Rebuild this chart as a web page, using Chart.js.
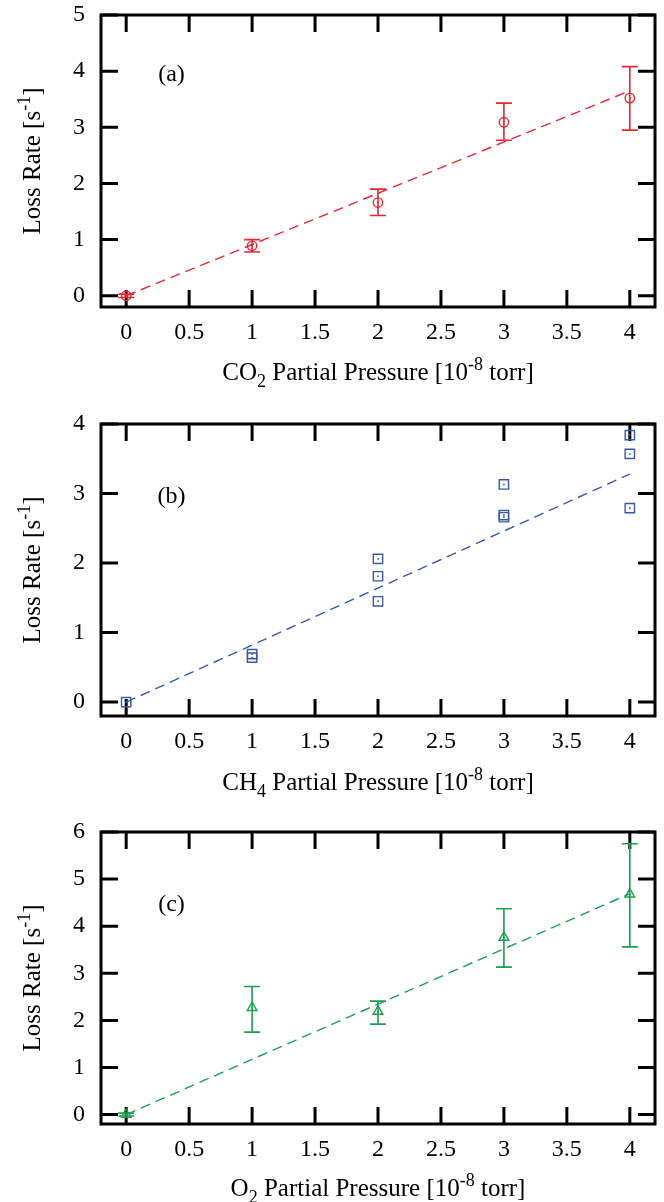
<!DOCTYPE html>
<html><head><meta charset="utf-8">
<script src="https://cdn.jsdelivr.net/npm/chart.js@4.4.1/dist/chart.umd.min.js"></script>
<style>
html,body{margin:0;padding:0;background:#fff;}
#wrap{position:relative;width:664px;height:1202px;overflow:hidden;}
canvas{position:absolute;left:0;}
</style></head><body>
<div id="wrap">
<canvas id="ca" width="664" height="420" style="top:-20px"></canvas>
<canvas id="cb" width="664" height="410" style="top:390px"></canvas>
<canvas id="cc" width="664" height="407" style="top:795px"></canvas>
</div>
<script>
// ---------- data ----------
const xTicks = [0, 0.5, 1, 1.5, 2, 2.5, 3, 3.5, 4];
const fitX = [0, 4];

// (a) CO2
const co2X  = [0, 1, 2, 3, 4];
const co2Y  = [0.00, 0.89, 1.66, 3.09, 3.52];
const co2Lo = [-0.03, 0.78, 1.43, 2.77, 2.95];
const co2Hi = [0.03, 1.00, 1.90, 3.43, 4.08];
const co2Fit = [0, 3.65];
const co2YTicks = [0, 1, 2, 3, 4, 5];

// (b) CH4
const ch4X = [0, 1, 1, 2, 2, 2, 3, 3, 3, 4, 4, 4];
const ch4Y = [0.00, 0.69, 0.64, 2.06, 1.81, 1.45, 3.13, 2.69, 2.66, 3.84, 3.57, 2.79];
const ch4Fit = [0, 3.28];
const ch4YTicks = [0, 1, 2, 3, 4];

// (c) O2
const o2X  = [0, 1, 2, 3, 4];
const o2Y  = [0.00, 2.27, 2.19, 3.76, 4.68];
const o2Lo = [-0.03, 1.75, 1.92, 3.13, 3.56];
const o2Hi = [0.03, 2.72, 2.41, 4.37, 5.75];
const o2Fit = [0, 4.69];
const o2YTicks = [0, 1, 2, 3, 4, 5, 6];

// ---------- helpers ----------
const SERIF = "'Liberation Serif','Times New Roman',serif";
const pts = (xs, ys) => xs.map((x, i) => ({x: x, y: ys[i]}));

function drawRich(ctx, segs, cx, cy, size) {
  let w = 0;
  segs.forEach(s => {
    const fs = s.sub || s.sup ? size * 0.72 : size;
    ctx.font = fs + 'px ' + SERIF;
    s._w = ctx.measureText(s.t).width; s._fs = fs; w += s._w;
  });
  let x = cx - w / 2;
  ctx.textAlign = 'left'; ctx.textBaseline = 'alphabetic';
  segs.forEach(s => {
    ctx.font = s._fs + 'px ' + SERIF;
    let dy = 0;
    if (s.sub) dy = size * 0.28;
    if (s.sup) dy = -size * 0.42;
    ctx.fillText(s.t, x, cy + dy);
    x += s._w;
  });
}

const framePlugin = {
  id: 'frame',
  beforeDatasetsDraw(chart) {
    const {ctx, chartArea: a, scales: {x, y}} = chart;
    const L = 17;
    ctx.save();
    ctx.strokeStyle = '#000'; ctx.lineWidth = 3; ctx.lineCap = 'butt';
    ctx.beginPath();
    x.ticks.forEach(t => {
      const px = x.getPixelForValue(t.value);
      ctx.moveTo(px, a.bottom); ctx.lineTo(px, a.bottom - L);
      ctx.moveTo(px, a.top); ctx.lineTo(px, a.top + L);
    });
    y.ticks.forEach(t => {
      const py = y.getPixelForValue(t.value);
      ctx.moveTo(a.left, py); ctx.lineTo(a.left + L, py);
      ctx.moveTo(a.right, py); ctx.lineTo(a.right - L, py);
    });
    ctx.stroke();
    ctx.strokeRect(a.left, a.top, a.right - a.left, a.bottom - a.top);
    ctx.restore();
  }
};

const errPlugin = {
  id: 'errbars',
  afterDatasetsDraw(chart) {
    const {ctx, scales: {x, y}} = chart;
    chart.data.datasets.forEach((ds, di) => {
      if (ds.type === 'line') return;
      const meta = chart.getDatasetMeta(di);
      ctx.save();
      ctx.strokeStyle = ds.borderColor; ctx.fillStyle = ds.borderColor;
      ctx.lineWidth = 1.6;
      ds.data.forEach((p, i) => {
        const px = x.getPixelForValue(p.x);
        if (ds.errLo) {
          const y1 = y.getPixelForValue(ds.errLo[i]);
          const y2 = y.getPixelForValue(ds.errHi[i]);
          ctx.beginPath();
          ctx.moveTo(px, y1); ctx.lineTo(px, y2);
          ctx.moveTo(px - 8, y1); ctx.lineTo(px + 8, y1);
          ctx.moveTo(px - 8, y2); ctx.lineTo(px + 8, y2);
          ctx.stroke();
        }
        const el = meta.data[i];
        ctx.fillRect(el.x - 0.8, el.y - 0.8, 1.6, 1.6);
      });
      ctx.restore();
    });
  }
};

const textPlugin = {
  id: 'texts',
  afterDraw(chart) {
    const o = chart.options.plugins.texts;
    const {ctx, chartArea: a, scales: {x, y}} = chart;
    ctx.save();
    ctx.fillStyle = '#000';
    ctx.font = '24px ' + SERIF; ctx.textAlign = 'center'; ctx.textBaseline = 'middle';
    ctx.fillText(o.tag, x.getPixelForValue(o.tagAt[0]), y.getPixelForValue(o.tagAt[1]));
    drawRich(ctx, o.xTitle, (a.left + a.right) / 2, o.xTitleY, 25);
    ctx.translate(40, (a.top + a.bottom) / 2);
    ctx.rotate(-Math.PI / 2);
    drawRich(ctx, o.yTitle, 0, 0, 25);
    ctx.restore();
  }
};

const yTitle = [{t: 'Loss Rate [s'}, {t: '-1', sup: true}, {t: ']'}];

// cfg.off = page y of canvas top; top/bottom/xTitleY given in page coordinates
function makeChart(id, cfg) {
  const cv = document.getElementById(id);
  const H = cv.height, off = cfg.off;
  return new Chart(cv, {
    data: {
      datasets: [
        {
          type: 'scatter',
          data: pts(cfg.xs, cfg.ys),
          errLo: cfg.lo, errHi: cfg.hi,
          borderColor: cfg.color, backgroundColor: 'rgba(0,0,0,0)',
          pointStyle: cfg.marker, pointRadius: cfg.radius, pointBorderWidth: 1.4,
          pointHoverRadius: cfg.radius
        },
        {
          type: 'line',
          data: pts(fitX, cfg.fit),
          borderColor: cfg.color, borderWidth: 1.4, borderDash: [10, 6],
          pointRadius: 0, fill: false, tension: 0
        }
      ]
    },
    options: {
      responsive: false, animation: false, devicePixelRatio: 1,
      layout: {padding: {top: cfg.top - off, right: 9, left: 0, bottom: 0}},
      plugins: {
        legend: {display: false}, tooltip: {enabled: false},
        texts: {tag: cfg.tag, tagAt: cfg.tagAt, xTitle: cfg.xTitle, xTitleY: cfg.xTitleY - off, yTitle: yTitle}
      },
      scales: {
        x: {
          type: 'linear', min: -0.2, max: 4.2,
          grid: {display: false, drawTicks: false}, border: {display: false},
          afterBuildTicks: s => { s.ticks = xTicks.map(v => ({value: v})); },
          afterFit: s => { s.height = H - (cfg.bottom - off); },
          ticks: {color: '#000', padding: 11, maxRotation: 0, autoSkip: false,
                  font: {family: SERIF, size: 24}, callback: v => String(v)}
        },
        y: {
          type: 'linear', min: -0.2, max: cfg.ymax,
          grid: {display: false, drawTicks: false}, border: {display: false},
          afterBuildTicks: s => { s.ticks = cfg.yTicks.map(v => ({value: v})); },
          afterFit: s => { s.width = 101; },
          ticks: {color: '#000', padding: 16, autoSkip: false,
                  font: {family: SERIF, size: 24}, callback: v => String(v)}
        }
      }
    },
    plugins: [framePlugin, errPlugin, textPlugin]
  });
}

makeChart('ca', {
  off: -20,
  xs: co2X, ys: co2Y, lo: co2Lo, hi: co2Hi, fit: co2Fit, yTicks: co2YTicks, ymax: 5,
  color: 'rgb(232,38,48)', marker: 'circle', radius: 4.7,
  top: 15, bottom: 307, tag: '(a)', tagAt: [0.36, 3.93], xTitleY: 380,
  xTitle: [{t: 'CO'}, {t: '2', sub: true}, {t: ' Partial Pressure [10'}, {t: '-8', sup: true}, {t: ' torr]'}]
});
makeChart('cb', {
  off: 390,
  xs: ch4X, ys: ch4Y, lo: null, hi: null, fit: ch4Fit, yTicks: ch4YTicks, ymax: 4,
  color: 'rgb(58,88,168)', marker: 'rect', radius: 6.6,
  top: 424, bottom: 716, tag: '(b)', tagAt: [0.36, 2.95], xTitleY: 790,
  xTitle: [{t: 'CH'}, {t: '4', sub: true}, {t: ' Partial Pressure [10'}, {t: '-8', sup: true}, {t: ' torr]'}]
});
makeChart('cc', {
  off: 795,
  xs: o2X, ys: o2Y, lo: o2Lo, hi: o2Hi, fit: o2Fit, yTicks: o2YTicks, ymax: 6,
  color: 'rgb(28,158,82)', marker: 'triangle', radius: 5.6,
  top: 832, bottom: 1124, tag: '(c)', tagAt: [0.36, 4.45], xTitleY: 1196,
  xTitle: [{t: 'O'}, {t: '2', sub: true}, {t: ' Partial Pressure [10'}, {t: '-8', sup: true}, {t: ' torr]'}]
});
</script>
</body></html>
